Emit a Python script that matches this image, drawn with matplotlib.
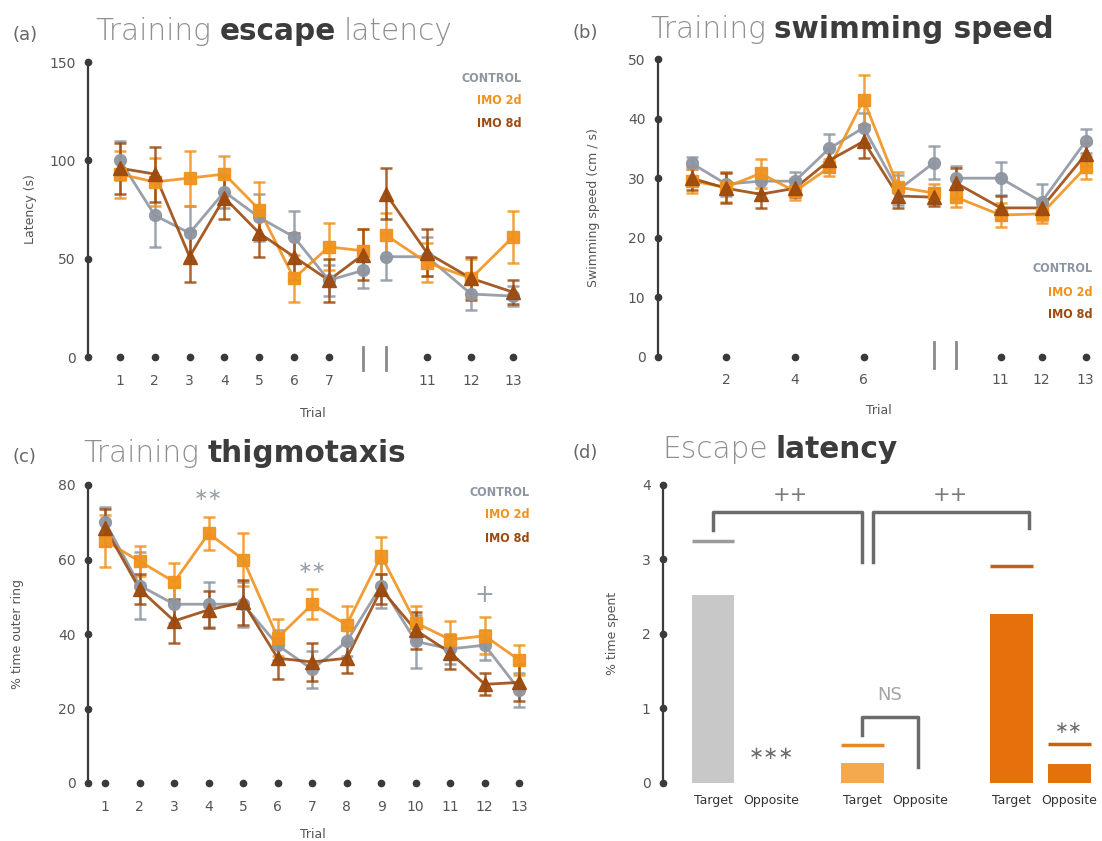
import matplotlib
matplotlib.use('Agg')
import matplotlib.pyplot as plt
import numpy as np

# ---------------- data ----------------
groups = ['CONTROL', 'IMO 2d', 'IMO 8d']

# (a) Training escape latency (s)
lat_ticklabels = ['1', '2', '3', '4', '5', '6', '7', '11', '12', '13']
lat_ctrl = [100, 72, 63, 84, 71, 61, 39, 44, 51, 51, 32, 31]
lat_ctrl_err = [10, 16, 14, 8, 12, 13, 8, 9, 12, 10, 8, 5]
lat_imo2 = [93, 89, 91, 93, 75, 40, 56, 54, 62, 48, 40, 61]
lat_imo2_err = [12, 12, 14, 9, 14, 12, 12, 11, 11, 10, 10, 13]
lat_imo8 = [96, 93, 51, 81, 63, 51, 39, 52, 83, 53, 40, 33]
lat_imo8_err = [13, 14, 13, 11, 12, 12, 11, 13, 13, 12, 11, 6]

# (b) Training swimming speed (cm/s)
spd_ticklabels = ['2', '4', '6', '11', '12', '13']
spd_ctrl = [32.5, 29, 29.5, 29.5, 35, 38.5, 28, 32.6, 30, 30, 26, 36.2]
spd_ctrl_err = [1, 2, 2, 1.5, 2.5, 2.5, 2.5, 2.8, 2, 2.8, 3, 2]
spd_imo2 = [29.5, 28.5, 30.8, 27.8, 31.8, 43.2, 28.5, 27.5, 26.8, 23.8, 24, 31.8]
spd_imo2_err = [2, 2.5, 2.4, 1.5, 1.5, 4.2, 2.5, 1.5, 1.7, 2, 1.5, 2]
spd_imo8 = [30, 28.3, 27.3, 28.3, 33, 36.2, 27, 26.8, 29.2, 25, 25, 34]
spd_imo8_err = [2, 2.5, 2.3, 1.5, 2, 2.8, 2, 1.5, 2.5, 2, 1.5, 2]

# (c) Training thigmotaxis (% time outer ring)
thig_trials = list(range(1, 14))
thig_ctrl = [70, 53, 48, 48, 48, 37, 30.5, 38, 53, 38, 36, 37, 25]
thig_ctrl_err = [4, 9, 5, 6, 6, 4, 5, 4, 6, 7, 4, 4, 4.5]
thig_imo2 = [65, 59.5, 54, 67, 60, 39, 48, 42.5, 61, 43, 38.5, 39.5, 33]
thig_imo2_err = [7, 4, 5, 4.5, 7, 5, 4, 5, 5, 4.5, 5, 5, 4]
thig_imo8 = [68.5, 52, 43.5, 46.5, 48.5, 33.5, 32.5, 33.5, 52, 41, 35, 26.5, 27]
thig_imo8_err = [5, 4, 6, 5, 6, 5.5, 5, 4, 4, 5, 4.5, 3, 5]

# (d) Escape latency probe (% time spent)
quadrants = ['Target', 'Opposite']
probe_target = [2.52, 0.27, 2.27]
probe_target_err = [0.73, 0.23, 0.64]
probe_opposite = [0.0, 0.0, 0.25]
probe_opposite_err = [0.0, 0.0, 0.27]

# ---------------- layout / style ----------------
W, H = 1102, 841
fig = plt.figure(figsize=(W / 100, H / 100), dpi=100)
ov = fig.add_axes([0, 0, 1, 1])
ov.set_xlim(0, W)
ov.set_ylim(H, 0)
ov.axis('off')

C_CTRL = '#8e96a2'
C_IMO2 = '#f0921e'
C_IMO8 = '#9c4a0e'
AX_COL = '#3a3a3a'
TXT = '#555555'
STAR = '#9aa0a8'

# x positions of trials on the broken axes (layout)
pos_a = [1, 2, 3, 4, 5, 6, 7, 7.98, 8.64, 9.82, 11.09, 12.29]
pos_b = [1, 2, 3, 4, 5, 6, 7, 8.04, 8.68, 9.98, 11.17, 12.45]
tick_idx_a = [0, 1, 2, 3, 4, 5, 6, 9, 10, 11]
tick_idx_b = [1, 3, 5, 9, 10, 11]


def px_axes(left, top, right, bottom):
    return fig.add_axes([left / W, 1 - bottom / H, (right - left) / W, (bottom - top) / H])


def style_axes(ax, yticks, ylabel, xlim, ylim, box, label_x_px):
    ax.set_xlim(*xlim)
    ax.set_ylim(*ylim)
    for s in ['top', 'right', 'bottom']:
        ax.spines[s].set_visible(False)
    ax.spines['left'].set_color(AX_COL)
    ax.spines['left'].set_linewidth(1.6)
    ax.set_yticks(yticks)
    ax.set_yticklabels([str(v) for v in yticks])
    ax.tick_params(axis='y', length=0, pad=9, labelsize=10, labelcolor=TXT)
    ax.plot([xlim[0]] * len(yticks), yticks, 'o', color=AX_COL, ms=4.5,
            clip_on=False, zorder=5)
    ax.set_ylabel(ylabel, fontsize=9, color=TXT)
    left, right = box
    ax.yaxis.set_label_coords((label_x_px - left) / (right - left), 0.5)
    ax.patch.set_alpha(0)


def x_dots(ax, xt, labels, pad=9):
    ax.set_xticks(xt)
    ax.set_xticklabels(labels)
    ax.tick_params(axis='x', length=0, pad=pad, labelsize=10, labelcolor=TXT)
    ax.plot(xt, [0] * len(xt), 'o', color=AX_COL, ms=4.5, clip_on=False, zorder=5)


series_style = [
    (C_CTRL, 'o', 8.5),
    (C_IMO2, 's', 8.5),
    (C_IMO8, '^', 9.5),
]


def draw_series(ax, x, vals, errs, style, segments):
    col, mk, ms = style
    x = np.asarray(x, float)
    vals = np.asarray(vals, float)
    errs = np.asarray(errs, float)
    ax.errorbar(x, vals, yerr=errs, fmt='none', ecolor=col, elinewidth=1.8,
                capsize=4, capthick=1.8, alpha=0.85, zorder=2)
    for a, b in segments:
        ax.plot(x[a:b], vals[a:b], '-', color=col, lw=2, alpha=0.9, zorder=3)
    ax.plot(x, vals, mk, color=col, ms=ms, mec=col, alpha=0.95, zorder=4, ls='none')


def legend(x_right, ys):
    cols = [C_CTRL, C_IMO2, C_IMO8]
    for g, c, y in zip(groups, cols, ys):
        ov.text(x_right, y, g, ha='right', va='center', color=c, fontsize=9,
                fontweight='bold', fontstretch='condensed')


def title(x_lab, x0, y, label, pieces, size=21.3):
    ov.text(x_lab, y, label, ha='left', va='baseline', color='#666666', fontsize=13)
    prev = None
    for txt, bold in pieces:
        kw = dict(fontsize=size, color='#3c3c3c' if bold else '#8f8f8f',
                  fontweight='bold' if bold else 'light')
        if prev is None:
            prev = ov.text(x0, y, txt, ha='left', va='baseline', **kw)
        else:
            prev = ov.annotate(txt, xy=(1, 0), xycoords=prev,
                               xytext=(size * 0.28, 0), textcoords='offset points',
                               ha='left', va='bottom', **kw)


# ---------------- (a) ----------------
axa = px_axes(88, 62, 537.6, 357)
style_axes(axa, [0, 50, 100, 150], 'Latency (s)', (0.08, 13.0), (0, 150), (88, 537.6), 37)
x_dots(axa, [pos_a[i] for i in tick_idx_a], lat_ticklabels, pad=12)
axa.set_xlabel('Trial', fontsize=9, color=TXT, labelpad=14)
segs = [(0, 8), (8, 12)]
for v, e, st in zip([lat_ctrl, lat_imo2, lat_imo8],
                    [lat_ctrl_err, lat_imo2_err, lat_imo8_err], series_style):
    draw_series(axa, pos_a, v, e, st, segs)
for i in (7, 8):
    axa.plot([pos_a[i], pos_a[i]], [-6.6, 5], color='#8a8a8a', lw=2, clip_on=False)
legend(522, [78, 100, 123])
title(12, 95, 40, '(a)', [('Training', False), ('escape', True), ('latency', False)])

# ---------------- (b) ----------------
axb = px_axes(658, 59.3, 1099.4, 356.5)
style_axes(axb, [0, 10, 20, 30, 40, 50], 'Swimming speed (cm / s)', (0.02, 12.85), (0, 50),
           (658, 1099.4), 600)
x_dots(axb, [pos_b[i] for i in tick_idx_b], spd_ticklabels, pad=12)
axb.set_xlabel('Trial', fontsize=9, color=TXT, labelpad=12)
for v, e, st in zip([spd_ctrl, spd_imo2, spd_imo8],
                    [spd_ctrl_err, spd_imo2_err, spd_imo8_err], series_style):
    draw_series(axb, pos_b, v, e, st, segs)
for i in (7, 8):
    axb.plot([pos_b[i], pos_b[i]], [-2.0, 2.5], color='#8a8a8a', lw=2, clip_on=False)
legend(1093, [268, 292, 315])
title(573, 650, 38, '(b)', [('Training', False), ('swimming speed', True)])

# ---------------- (c) ----------------
axc = px_axes(88.3, 485, 536.5, 783)
style_axes(axc, [0, 20, 40, 60, 80], '% time outer ring', (0.51, 13.5), (0, 80),
           (88.3, 536.5), 24)
x_dots(axc, thig_trials, [str(t) for t in thig_trials], pad=12)
axc.set_xlabel('Trial', fontsize=9, color=TXT, labelpad=10)
for v, e, st in zip([thig_ctrl, thig_imo2, thig_imo8],
                    [thig_ctrl_err, thig_imo2_err, thig_imo8_err], series_style):
    draw_series(axc, thig_trials, v, e, st, [(0, 13)])
axc.text(4, 77.4, '\u2217\u2217', ha='center', va='center', color=STAR, fontsize=12.5)
axc.text(7, 57.7, '\u2217\u2217', ha='center', va='center', color=STAR, fontsize=12.5)
axc.text(12, 50.5, '+', ha='center', va='center', color=STAR, fontsize=17)
legend(530, [492, 514, 538])
title(12, 83, 462, '(c)', [('Training', False), ('thigmotaxis', True)])

# ---------------- (d) ----------------
axd = px_axes(663.3, 485, 1099.9, 782.6)
style_axes(axd, [0, 1, 2, 3, 4], '% time spent', (-0.857, 6.67), (0, 4),
           (663.3, 1099.9), 619)
gx = np.array([0, 2.57, 5.14])
bw = 0.74
bar_cols = ['#c8c8c8', '#f6a94c', '#e6700b']
err_cols = ['#9b9b9b', '#e5872c', '#c9600c']
axd.bar(gx, probe_target, width=bw, color=bar_cols, zorder=2)
axd.bar(gx + 1, probe_opposite, width=bw, color=bar_cols, zorder=2)
for i in range(3):
    axd.hlines(probe_target[i] + probe_target_err[i], gx[i] - bw / 2, gx[i] + bw / 2,
               color=err_cols[i], lw=2.5)
    if probe_opposite_err[i] > 0:
        axd.hlines(probe_opposite[i] + probe_opposite_err[i], gx[i] + 1 - bw / 2,
                   gx[i] + 1 + bw / 2, color=err_cols[i], lw=2.5)
xt = np.ravel(np.column_stack([gx, gx + 1]))
axd.set_xticks(xt)
axd.set_xticklabels(quadrants * 3)
axd.tick_params(axis='x', length=0, pad=8, labelsize=9, labelcolor='#333333')

BR = '#6b6b6b'
axd.plot([gx[0], gx[0], gx[1], gx[1]], [3.40, 3.64, 3.64, 2.97], color=BR, lw=2.5)
axd.plot([gx[1] + 0.18, gx[1] + 0.18, gx[2] + 0.3, gx[2] + 0.3], [2.97, 3.64, 3.64, 3.42],
         color=BR, lw=2.5)
axd.plot([gx[1], gx[1], gx[1] + 0.97, gx[1] + 0.97], [0.64, 0.885, 0.885, 0.21],
         color=BR, lw=2.5)
axd.text(1.33, 3.87, '++', ha='center', va='center', color='#7a7a7a', fontsize=15)
axd.text(4.09, 3.87, '++', ha='center', va='center', color='#7a7a7a', fontsize=15)
axd.text(3.05, 1.18, 'NS', ha='center', va='center', color='#a5a5a5', fontsize=13)
axd.text(gx[0] + 1, 0.39, '\u2217\u2217\u2217', ha='center', va='center', color='#6b6b6b', fontsize=13)
axd.text(gx[2] + 1, 0.73, '\u2217\u2217', ha='center', va='center', color='#6b6b6b', fontsize=12)
title(573, 662, 458, '(d)', [('Escape', False), ('latency', True)])

fig.savefig('out.png', dpi=100)
